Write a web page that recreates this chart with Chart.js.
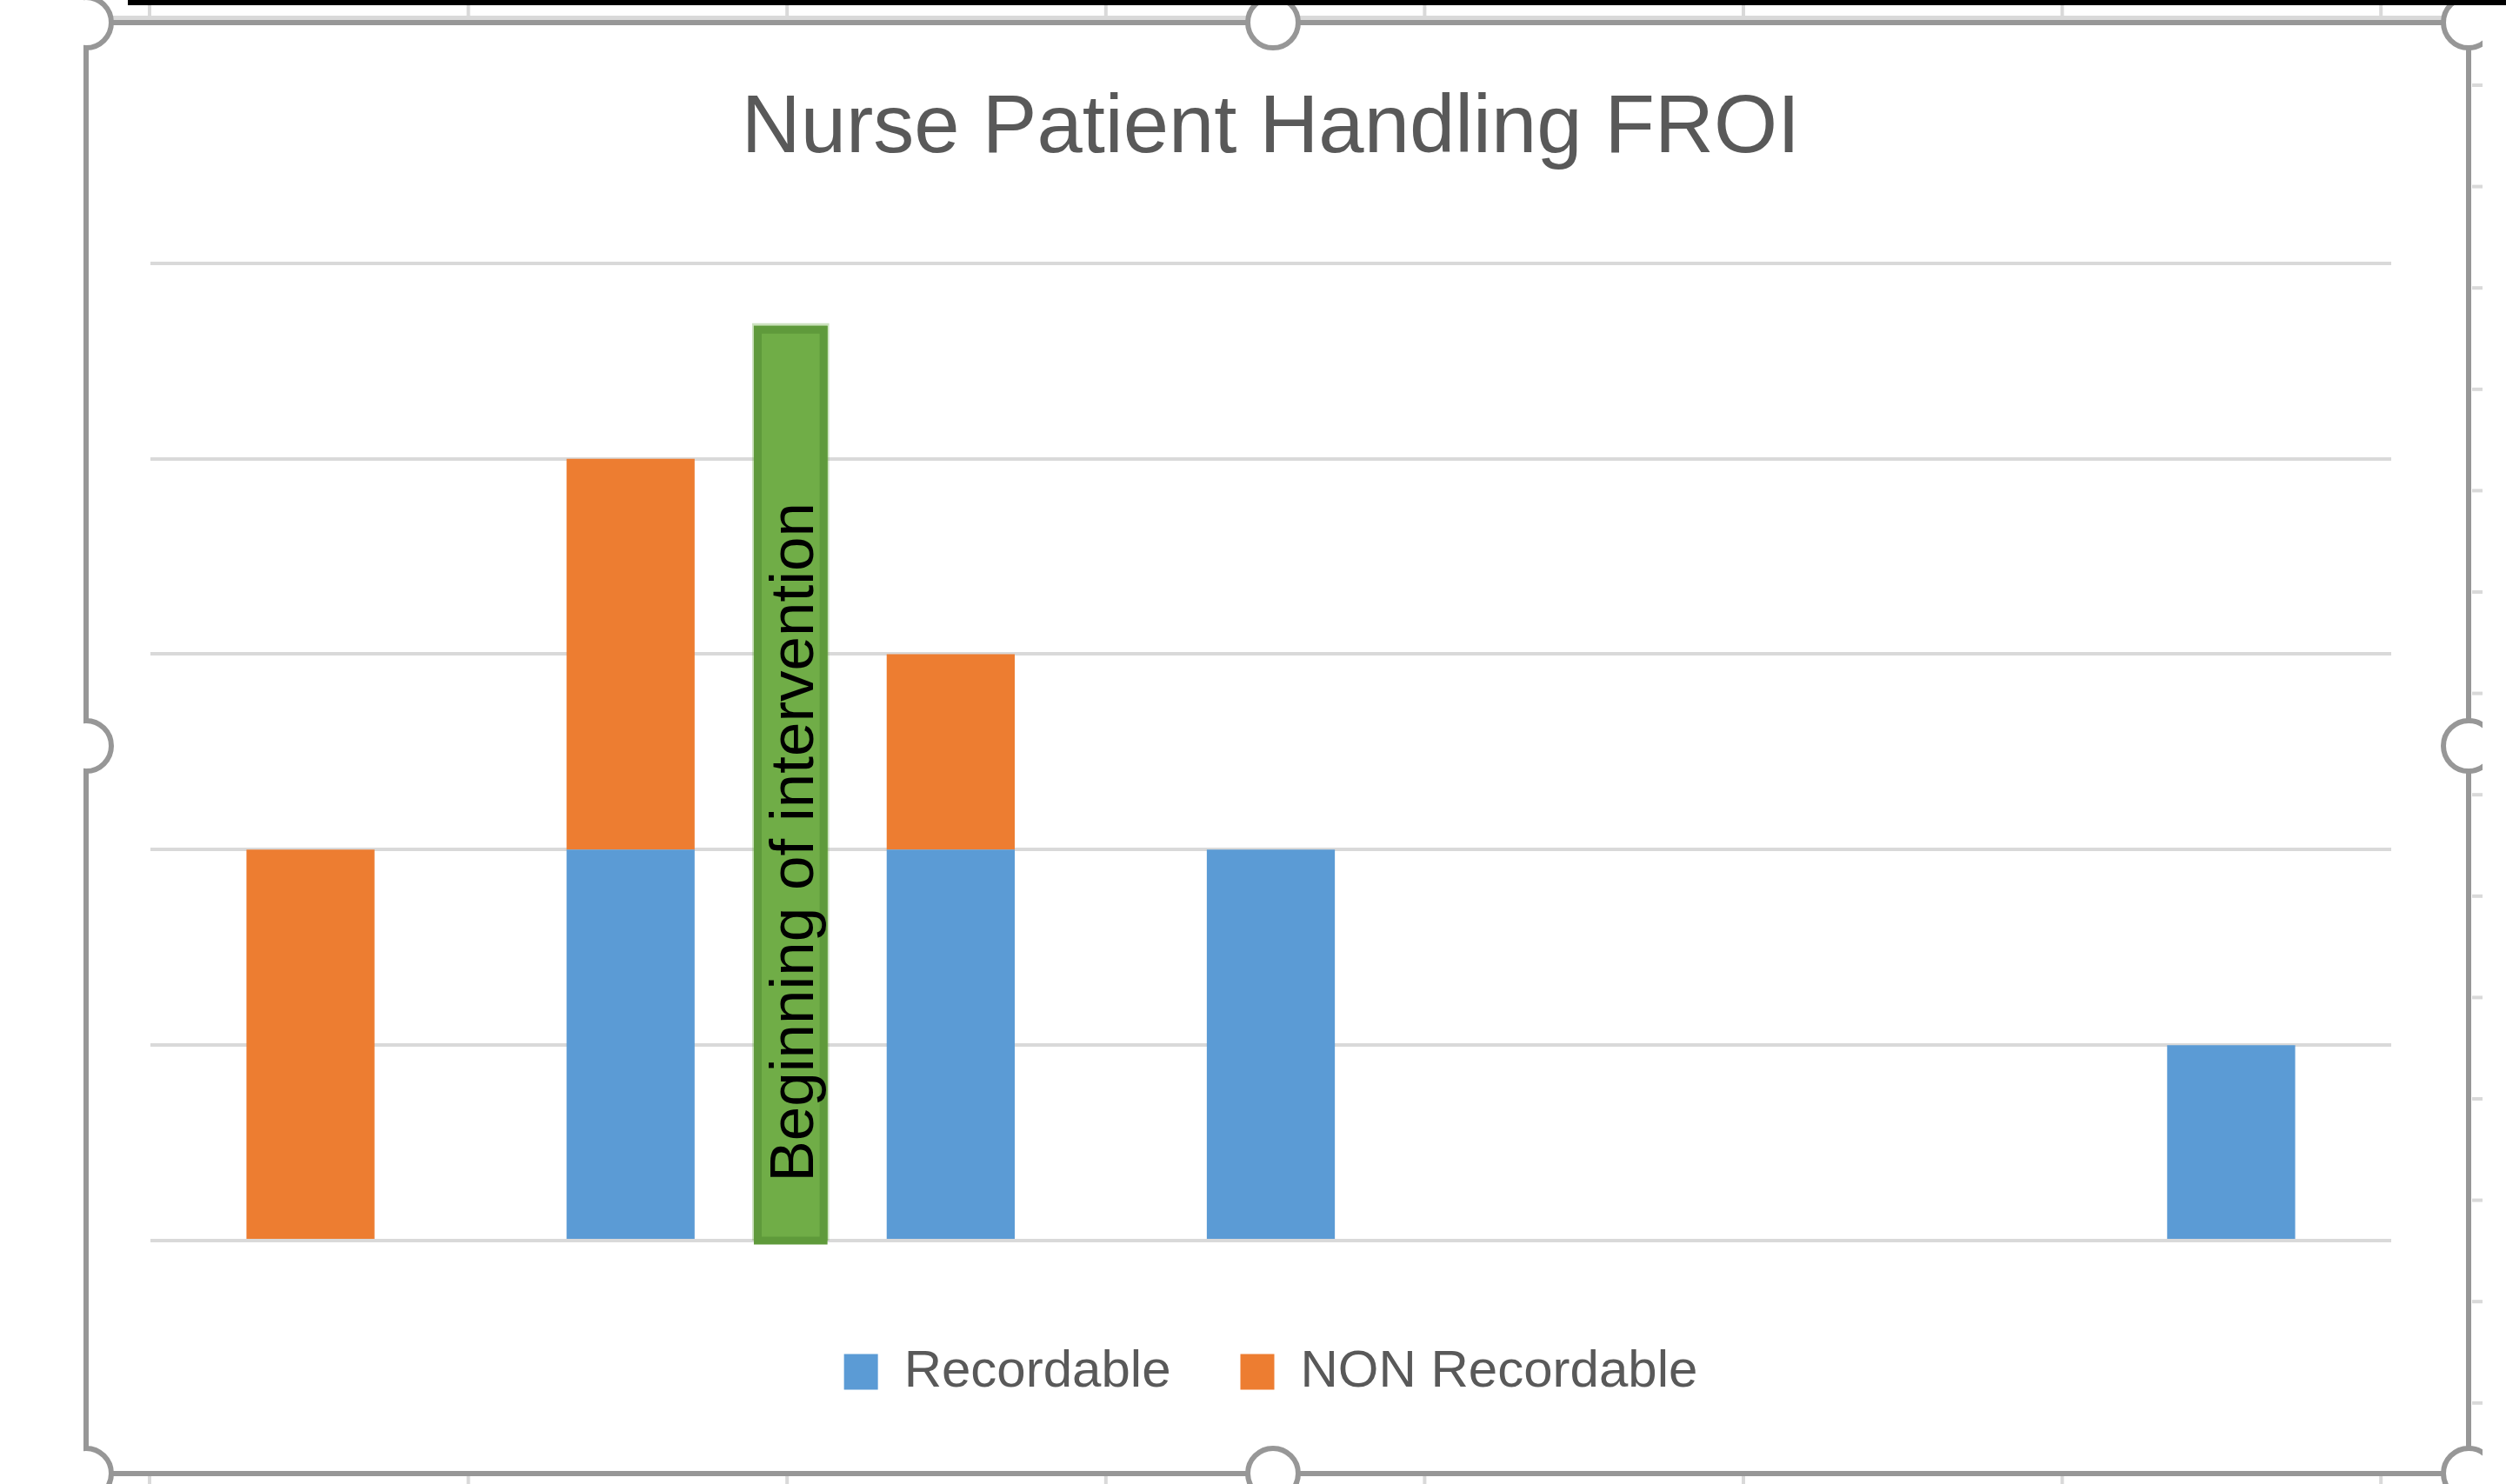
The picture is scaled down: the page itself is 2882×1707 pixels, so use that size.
<!DOCTYPE html>
<html lang="en">
<head>
<meta charset="UTF-8">
<script src="https://cdn.jsdelivr.net/npm/chart.js"></script>
<style>
  html, body { margin: 0; padding: 0; background: #fff; }
  #wrap { width: 2882px; height: 1707px; position: relative; }
</style>
</head>
<body>
<div id="wrap"><canvas id="froiChart"></canvas></div>
<script>
  // chart data
  const categories = ['1', '2', '3', '4', '5', '6', '7'];
  const recordable = [0, 2, 2, 2, 0, 0, 1];
  const nonRecordable = [2, 2, 1, 0, 0, 0, 0];
  const yTicks = [0, 1, 2, 3, 4, 5];

  // the green "intervention" marker sits between the 2nd and 3rd category
  const interventionText = 'Beginning of intervention';
  const interventionAt = 1.5;
  const interventionTop = 4.68;

  const FONT = "'Liberation Sans', Arial, sans-serif";
  const FRAME = { left: 99, top: 26, right: 2839, bottom: 1695 };

  // spreadsheet background + selected-chart frame
  const sheetFrame = {
    id: 'sheetFrame',
    beforeDraw(chart) {
      const ctx = chart.ctx;
      ctx.save();
      ctx.fillStyle = '#fff';
      ctx.fillRect(0, 0, chart.width, chart.height);
      ctx.fillStyle = '#d9d9d9';
      // row line just above the frame
      ctx.fillRect(102, 18, 2740, 5);
      // column ticks above and below the frame
      for (let i = 0; i < 8; i++) {
        const x = 170 + i * 366.6;
        ctx.fillRect(x, 6, 4, 12);
        ctx.fillRect(x, 1698, 4, 9);
      }
      // row ticks on the right
      for (let y = 96; y < 1700; y += 116.6) {
        ctx.fillRect(2843, y, 12, 4);
      }
      ctx.restore();
    },
    afterDraw(chart) {
      const ctx = chart.ctx;
      ctx.save();
      ctx.strokeStyle = '#979797';
      ctx.lineWidth = 6;
      ctx.strokeRect(FRAME.left, FRAME.top, FRAME.right - FRAME.left, FRAME.bottom - FRAME.top);

      ctx.beginPath();
      ctx.rect(96, 0, 2855 - 96, chart.height);
      ctx.clip();
      const midX = 1464, midY = 858;
      const handles = [
        [FRAME.left, FRAME.top], [midX, FRAME.top], [FRAME.right, FRAME.top],
        [FRAME.left, midY], [FRAME.right, midY],
        [FRAME.left, FRAME.bottom], [midX, FRAME.bottom], [FRAME.right, FRAME.bottom]
      ];
      handles.forEach(([x, y]) => {
        ctx.beginPath();
        ctx.arc(x, y, 29, 0, Math.PI * 2);
        ctx.fillStyle = '#fff';
        ctx.fill();
        ctx.stroke();
      });
      ctx.restore();

      // black bar at the very top
      ctx.fillStyle = '#000';
      ctx.fillRect(147, 0, chart.width - 147, 6);
    }
  };

  // green text box marking the start of the intervention
  const interventionBox = {
    id: 'interventionBox',
    afterDatasetsDraw(chart) {
      const ctx = chart.ctx;
      const xs = chart.scales.x, ys = chart.scales.y;
      const cx = xs.getPixelForValue(interventionAt);
      const w = (xs.getPixelForValue(1) - xs.getPixelForValue(0)) * 0.23;
      const top = ys.getPixelForValue(interventionTop);
      const bottom = ys.getPixelForValue(0);
      ctx.save();
      ctx.fillStyle = 'rgba(112,173,71,0.35)';
      ctx.fillRect(cx - w / 2 - 2, top - 3, w + 4, bottom - top + 3);
      ctx.fillStyle = '#70AD47';
      ctx.fillRect(cx - w / 2, top, w, bottom - top);
      ctx.strokeStyle = '#5F9A3B';
      ctx.lineWidth = 9;
      ctx.strokeRect(cx - w / 2 + 4.5, top + 4.5, w - 9, bottom - top - 4.5);

      ctx.translate(cx + 26, ys.getPixelForValue(0.3));
      ctx.rotate(-Math.PI / 2);
      ctx.fillStyle = '#000';
      ctx.font = '71px ' + FONT;
      ctx.textAlign = 'left';
      ctx.textBaseline = 'alphabetic';
      ctx.fillText(interventionText, 0, 0);
      ctx.restore();
    }
  };

  new Chart(document.getElementById('froiChart'), {
    type: 'bar',
    data: {
      labels: categories,
      datasets: [
        { label: 'Recordable', data: recordable, backgroundColor: '#5B9BD5', borderWidth: 0 },
        { label: 'NON Recordable', data: nonRecordable, backgroundColor: '#ED7D31', borderWidth: 0 }
      ]
    },
    options: {
      responsive: true,
      maintainAspectRatio: false,
      animation: false,
      devicePixelRatio: 1,
      layout: { padding: { left: 173, right: 132, top: 30, bottom: 89 } },
      datasets: { bar: { categoryPercentage: 1.0, barPercentage: 0.4 } },
      plugins: {
        title: {
          display: true,
          text: 'Nurse Patient Handling FROI',
          color: '#595959',
          font: { family: FONT, size: 94, weight: 'normal', lineHeight: 1.2 },
          padding: { top: 63, bottom: 97 }
        },
        legend: {
          position: 'bottom',
          labels: {
            color: '#595959',
            font: { family: FONT, size: 60 },
            boxWidth: 39,
            boxHeight: 41,
            padding: 80
          }
        },
        tooltip: { enabled: false }
      },
      scales: {
        x: {
          stacked: true,
          grid: { display: false },
          border: { display: false },
          ticks: { display: false },
          afterFit(scale) { scale.height = 41; }
        },
        y: {
          stacked: true,
          min: yTicks[0],
          max: yTicks[yTicks.length - 1],
          afterBuildTicks(scale) { scale.ticks = yTicks.map(v => ({ value: v })); },
          ticks: { display: false },
          border: { display: false },
          grid: { color: '#D9D9D9', lineWidth: 4, drawTicks: false },
          afterFit(scale) { scale.width = 0; }
        }
      }
    },
    plugins: [sheetFrame, interventionBox]
  });
</script>
</body>
</html>
